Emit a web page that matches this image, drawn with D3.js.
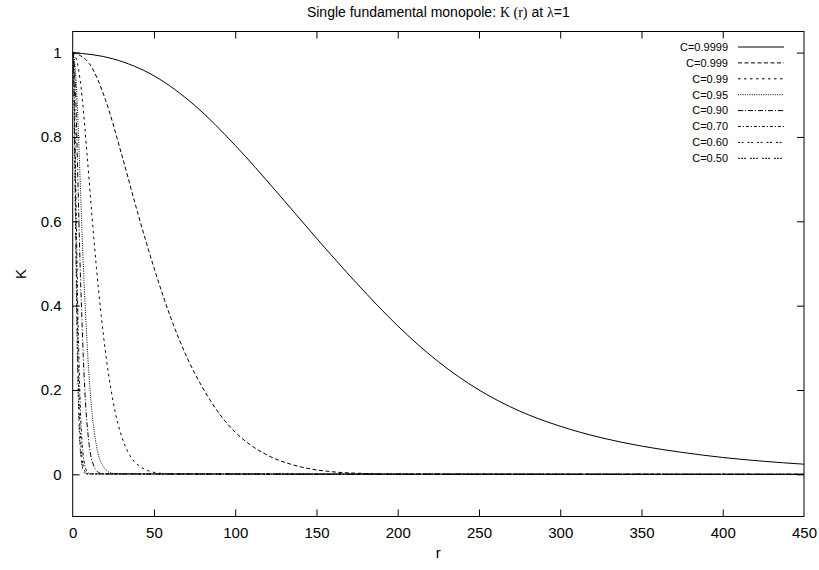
<!DOCTYPE html>
<html><head><meta charset="utf-8">
<script src="https://cdn.jsdelivr.net/npm/d3@7/dist/d3.min.js"></script>
<style>body{margin:0;background:#fff}svg{display:block}</style>
</head><body>
<svg id="c" width="819" height="570"></svg>
<script>
// ---- data ----
const legendLabels = ["C=0.9999","C=0.999","C=0.99","C=0.95","C=0.90","C=0.70","C=0.60","C=0.50"];
const xTicks = [0,50,100,150,200,250,300,350,400,450];
const yTicks = [0,0.2,0.4,0.6,0.8,1];

const r9999 = [0,25,50,75,100,125,150,175,200,225,250,275,300,325,350,375,400,425,450];
const k9999 = [1,0.985,0.945,0.875,0.78,0.672,0.56,0.452,0.352,0.267,0.2,0.15,0.114,0.087,0.067,0.052,0.04,0.031,0.024];

const r999 = [0,10,20,30,40,50,60,70,80,90,100,110,120,140,160,180,200,450];
const k999 = [1,0.975,0.89,0.76,0.62,0.49,0.375,0.28,0.205,0.145,0.10,0.068,0.045,0.018,0.006,0.002,0.0005,0];

const r99 = [0,2.9,5.9,8.8,11.7,14.6,17.6,20.5,23.4,26.3,29.3,32.2,35.1,41,46.8,52.7,58.5,450];
const k99 = [1,0.975,0.89,0.76,0.62,0.49,0.375,0.28,0.205,0.145,0.10,0.068,0.045,0.02,0.008,0.003,0.001,0];

const r95 = [0,1.3,2.7,4,5.3,6.6,8,9.3,10.6,11.9,13.3,14.6,15.9,18.6,21.2,23.9,26.5,450];
const k95 = [1,0.975,0.89,0.76,0.62,0.49,0.375,0.28,0.205,0.145,0.10,0.068,0.045,0.02,0.008,0.003,0.001,0];

const r90 = [0,0.9,1.9,2.8,3.7,4.6,5.6,6.5,7.4,8.3,9.3,10.2,11.1,13,14.8,16.7,18.5,450];
const k90 = [1,0.975,0.89,0.76,0.62,0.49,0.375,0.28,0.205,0.145,0.10,0.068,0.045,0.02,0.008,0.003,0.001,0];

const r70 = [0,0.5,1.1,1.6,2.15,2.7,3.2,3.8,4.3,4.8,5.4,5.9,6.5,7.5,8.6,9.7,10.8,450];
const k70 = [1,0.975,0.89,0.76,0.62,0.49,0.375,0.28,0.205,0.145,0.10,0.068,0.045,0.02,0.008,0.003,0.001,0];

const r60 = [0,0.5,0.9,1.4,1.85,2.3,2.8,3.2,3.7,4.2,4.6,5.1,5.6,6.5,7.4,8.3,9.3,450];
const k60 = [1,0.975,0.89,0.76,0.62,0.49,0.375,0.28,0.205,0.145,0.10,0.068,0.045,0.02,0.008,0.003,0.001,0];

const r50 = [0,0.4,0.8,1.2,1.65,2.1,2.5,2.9,3.3,3.7,4.1,4.5,5,5.8,6.6,7.4,8.3,450];
const k50 = [1,0.975,0.89,0.76,0.62,0.49,0.375,0.28,0.205,0.145,0.10,0.068,0.045,0.02,0.008,0.003,0.001,0];

const seriesR = [r9999,r999,r99,r95,r90,r70,r60,r50];
const seriesK = [k9999,k999,k99,k95,k90,k70,k60,k50];

// ---- styles ----
const dashes = ["", "4,2.5", "2.5,3.5", "1,1.3", "5,2,1,2", "3,2,1,2", "2,1.5,2,4", "2,1,2,1,2,4"];

// ---- layout ----
const L = 72.7, R = 804, T = 31.5, B = 516.5;
const svg = d3.select("#c");
const x = d3.scaleLinear().domain([0,450]).range([L,R]);
const y = d3.scaleLinear().domain([-0.1,1.05]).range([B,T]);
const sans = "'Liberation Sans', Arial, Helvetica, sans-serif";
const serif = "'Liberation Serif', 'Times New Roman', serif";

svg.append("clipPath").attr("id","clip").append("rect")
  .attr("x",L).attr("y",T).attr("width",R-L).attr("height",B-T);

// axes with inward ticks
const tk = 7;
const axB = svg.append("g").attr("transform",`translate(0,${B})`)
  .call(d3.axisBottom(x).tickValues(xTicks).tickSize(-tk).tickPadding(11).tickFormat(d3.format("d")));
const axT = svg.append("g").attr("transform",`translate(0,${T})`)
  .call(d3.axisTop(x).tickValues(xTicks).tickSize(-tk).tickFormat(""));
const axL = svg.append("g").attr("transform",`translate(${L},0)`)
  .call(d3.axisLeft(y).tickValues(yTicks).tickSize(-tk).tickPadding(11).tickFormat(d=>d3.format("")(+d.toFixed(1))));
const axR = svg.append("g").attr("transform",`translate(${R},0)`)
  .call(d3.axisRight(y).tickValues(yTicks).tickSize(-tk).tickFormat(""));
[axB,axT,axL,axR].forEach(a=>{
  a.select(".domain").remove();
  a.selectAll("line").attr("stroke","#000").attr("stroke-width",1);
  a.selectAll("text").attr("font-family",sans).attr("font-size",15).attr("fill","#000");
});
axB.selectAll(".tick").filter(d=>d===0||d===450).select("line").remove();
axT.selectAll(".tick").filter(d=>d===0||d===450).select("line").remove();

// curves
const line = d3.line().curve(d3.curveMonotoneX);
const gC = svg.append("g").attr("clip-path","url(#clip)");
seriesR.forEach((rs,i)=>{
  const pts = rs.map((r,j)=>[x(r), y(seriesK[i][j])]);
  gC.append("path").attr("d",line(pts)).attr("fill","none")
    .attr("stroke","#000").attr("stroke-width",1)
    .attr("stroke-dasharray",dashes[i]||null);
});

// frame
svg.append("rect").attr("x",L).attr("y",T).attr("width",R-L).attr("height",B-T)
  .attr("fill","none").attr("stroke","#000").attr("stroke-width",1);

// legend
const lg = svg.append("g");
legendLabels.forEach((lab,i)=>{
  const yy = 47 + i*15.9;
  lg.append("text").attr("x",728).attr("y",yy).attr("dy","0.35em")
    .attr("text-anchor","end").attr("font-family",sans).attr("font-size",11).text(lab);
  lg.append("line").attr("x1",738).attr("x2",784).attr("y1",yy).attr("y2",yy)
    .attr("stroke","#000").attr("stroke-width",1).attr("stroke-dasharray",dashes[i]||null);
});

// title
const t = svg.append("text").attr("x",(L+R)/2).attr("y",12).attr("dy","0.35em")
  .attr("text-anchor","middle").attr("font-family",sans).attr("font-size",14);
t.append("tspan").text("Single fundamental monopole: ");
t.append("tspan").attr("font-family",serif).text("K (r)");
t.append("tspan").text(" at ");
t.append("tspan").attr("font-family",serif).text("λ");
t.append("tspan").text("=1");

// axis labels
svg.append("text").attr("x",(L+R)/2).attr("y",553).attr("dy","0.35em")
  .attr("text-anchor","middle").attr("font-family",sans).attr("font-size",15).text("r");
svg.append("text").attr("transform",`translate(21,${(T+B)/2}) rotate(-90)`).attr("dy","0.35em")
  .attr("text-anchor","middle").attr("font-family",sans).attr("font-size",15).text("K");
</script>
</body></html>
